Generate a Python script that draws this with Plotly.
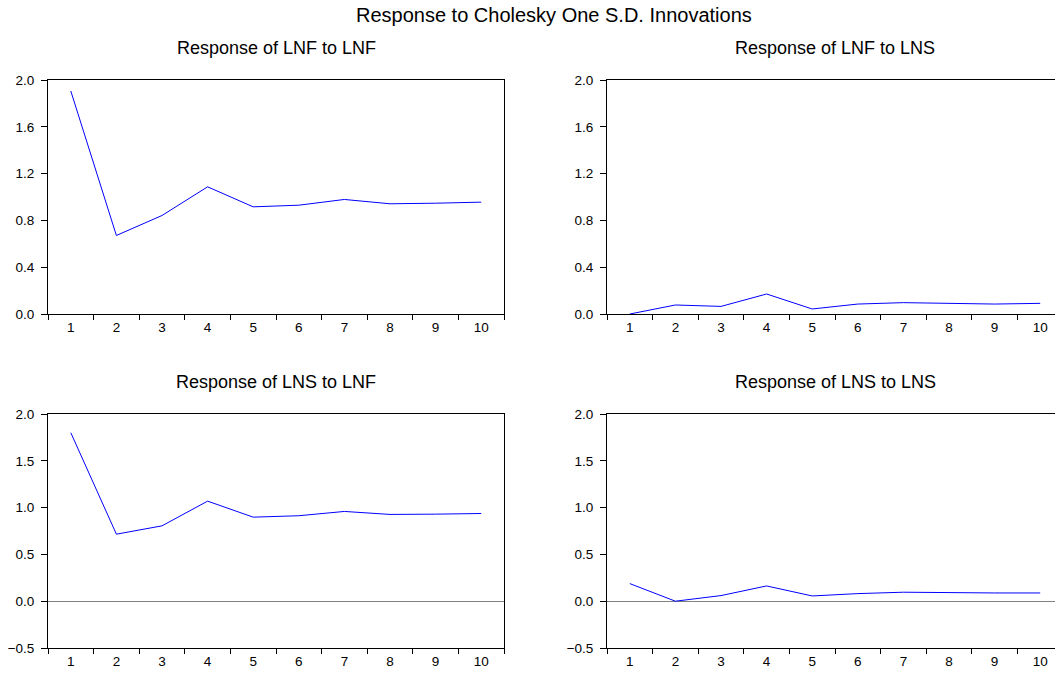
import plotly.graph_objects as go

periods = [str(i) for i in range(1, 11)]

lnf_to_lnf = [1.906, 0.671, 0.842, 1.087, 0.916, 0.930, 0.979, 0.942, 0.947, 0.956]
lnf_to_lns = [0.0, 0.077, 0.065, 0.171, 0.043, 0.085, 0.097, 0.088, 0.085, 0.091]
lns_to_lnf = [1.80, 0.716, 0.805, 1.069, 0.898, 0.913, 0.959, 0.927, 0.930, 0.937]
lns_to_lns = [0.188, 0.0, 0.060, 0.163, 0.056, 0.081, 0.096, 0.088, 0.088, 0.088]

titles = ["Response of LNF to LNF", "Response of LNF to LNS",
          "Response of LNS to LNF", "Response of LNS to LNS"]
main_title = "Response to Cholesky One S.D. Innovations"

W, H = 1055, 673
FONT = "Liberation Sans, Arial, sans-serif"

fig = go.Figure()
series = [lnf_to_lnf, lnf_to_lns, lns_to_lnf, lns_to_lns]
for i, s in enumerate(series):
    fig.add_trace(go.Scatter(x=periods, y=s, mode="lines",
                             line=dict(color="#0000FF", width=1),
                             xaxis=f"x{i+1}", yaxis=f"y{i+1}",
                             showlegend=False, hoverinfo="skip"))

# pixel geometry
left_x = (48, 504)
right_x0 = 607
bin_w = (504 - 48) / 10.0
top_y = (80, 314)
bot_y = (414, 648)

def xd(x0, x1):
    return [x0 / W, min(x1 / W, 1.0)]

def yd(ytop, ybot):
    return [1 - ybot / H, 1 - ytop / H]

right_range_hi = -0.5 + (W - right_x0) / bin_w

panels = [
    dict(xdom=xd(*left_x), xr=[-0.5, 9.5], ydom=yd(*top_y), yr=[0, 2.0], dt=0.4, zl=False, right=False),
    dict(xdom=xd(right_x0, W), xr=[-0.5, right_range_hi], ydom=yd(*top_y), yr=[0, 2.0], dt=0.4, zl=False, right=True),
    dict(xdom=xd(*left_x), xr=[-0.5, 9.5], ydom=yd(*bot_y), yr=[-0.5, 2.0], dt=0.5, zl=True, right=False),
    dict(xdom=xd(right_x0, W), xr=[-0.5, right_range_hi], ydom=yd(*bot_y), yr=[-0.5, 2.0], dt=0.5, zl=True, right=True),
]

layout = dict(
    template="none",
    width=W, height=H, autosize=False,
    margin=dict(l=0, r=0, t=0, b=0, pad=0, autoexpand=False),
    paper_bgcolor="white", plot_bgcolor="white",
    font=dict(family=FONT, size=13, color="#000000"),
    showlegend=False,
)

for i, p in enumerate(panels):
    n = i + 1
    layout[f"xaxis{n}"] = dict(
        domain=p["xdom"], range=p["xr"], type="category",
        categoryorder="array", categoryarray=periods,
        tickson="boundaries", ticks="outside", ticklen=5, tickwidth=1,
        tickcolor="#000000", showline=True, linecolor="#000000", linewidth=1,
        mirror=True, showgrid=False, zeroline=False, automargin=False,
        anchor=f"y{n}", tickfont=dict(family=FONT, size=13.5),
        ticklabelstandoff=1, fixedrange=True,
    )
    layout[f"yaxis{n}"] = dict(
        domain=p["ydom"], range=p["yr"], tick0=0, dtick=p["dt"],
        tickformat=".1f", ticks="outside", ticklen=6, tickwidth=1,
        tickcolor="#000000", showline=True, linecolor="#000000", linewidth=1,
        mirror=(not p["right"]), showgrid=False, automargin=False,
        zeroline=p["zl"], zerolinecolor="#808080", zerolinewidth=1,
        anchor=f"x{n}", tickfont=dict(family=FONT, size=13.5),
        ticklabelstandoff=4, fixedrange=True,
    )

fig.update_layout(**layout)

annotations = [
    dict(text=main_title, x=554 / W, y=1 - 15 / H, xref="paper", yref="paper",
         showarrow=False, font=dict(family=FONT, size=20), xanchor="center", yanchor="middle"),
]
centers = [(276, 48), (835, 48), (276, 382), (835, 382)]
for t, (cx, cy) in zip(titles, centers):
    annotations.append(dict(text=t, x=cx / W, y=1 - cy / H, xref="paper", yref="paper",
                            showarrow=False, font=dict(family=FONT, size=18),
                            xanchor="center", yanchor="middle"))
fig.update_layout(annotations=annotations)

fig.write_html("out.html", config={"displayModeBar": False},
               post_script="document.body.style.margin='0px';")
